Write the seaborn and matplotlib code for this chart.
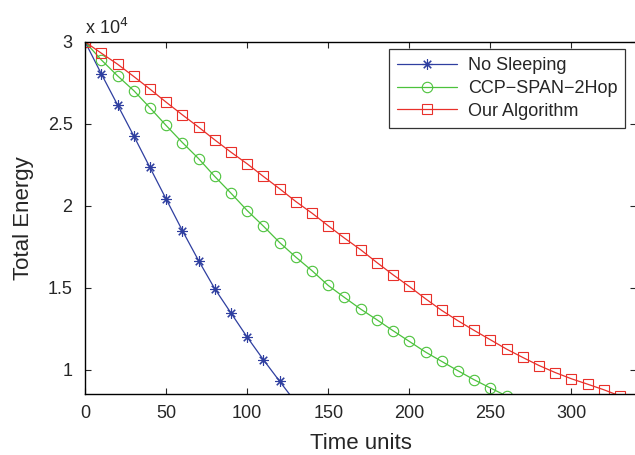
import pandas as pd
import matplotlib
matplotlib.use("Agg")
import matplotlib.pyplot as plt
import seaborn as sns

# Energy values (x 10^4), one point every 10 time units
time_no_sleep = [0, 10, 20, 30, 40, 50, 60, 70, 80, 90, 100, 110, 120, 130]
no_sleeping = [3.0, 2.805, 2.616, 2.427, 2.234, 2.041, 1.849, 1.666, 1.494,
               1.346, 1.199, 1.061, 0.930, 0.80]

time_ccp = list(range(0, 270, 10))
ccp_span = [3.0, 2.89, 2.793, 2.703, 2.598, 2.49, 2.386, 2.288, 2.179, 2.077,
            1.971, 1.876, 1.776, 1.687, 1.604, 1.514, 1.441, 1.37, 1.305,
            1.238, 1.173, 1.108, 1.051, 0.994, 0.939, 0.889, 0.84]

time_ours = list(range(0, 340, 10))
our_algo = [3.0, 2.931, 2.864, 2.789, 2.712, 2.632, 2.555, 2.48, 2.402, 2.327,
            2.256, 2.179, 2.104, 2.026, 1.955, 1.878, 1.803, 1.732, 1.654,
            1.579, 1.508, 1.433, 1.362, 1.299, 1.24, 1.183, 1.126, 1.075,
            1.026, 0.983, 0.945, 0.912, 0.878, 0.84]

x_ticks = [0, 50, 100, 150, 200, 250, 300]
y_ticks = [1, 1.5, 2, 2.5, 3]
y_tick_labels = ["1", "1.5", "2", "2.5", "3"]

sns.set_style("ticks")
plt.rcParams["font.family"] = ["Liberation Sans", "DejaVu Sans"]

fig = plt.figure(figsize=(6.35, 4.55), dpi=100)
ax = fig.add_axes([0.134, 0.134, 0.868, 0.774])

series = [
    (time_no_sleep, no_sleeping, "No Sleeping", "#2f3fa0", (8, 2, 0), 7.5),
    (time_ccp, ccp_span, "CCP\u2212SPAN\u22122Hop", "#4cc23c", "o", 7.5),
    (time_ours, our_algo, "Our Algorithm", "#e8302a", "s", 6.5),
]
for t, e, name, col, mk, ms in series:
    sns.lineplot(x=t, y=e, ax=ax, label=name, color=col, marker=mk,
                 markersize=ms, markerfacecolor="none", markeredgecolor=col,
                 markeredgewidth=0.8, linewidth=0.9)

ax.set_xlim(0, 340)
ax.set_ylim(0.852, 3.0)
ax.set_xticks(x_ticks)
ax.set_yticks(y_ticks)
ax.set_yticklabels(y_tick_labels)
ax.tick_params(labelsize=13, direction="in", length=4, width=0.8,
               top=True, right=True)
ax.tick_params(axis="y", pad=9)
ax.tick_params(axis="x", pad=8)
for s in ax.spines.values():
    s.set_linewidth(1.0)
    s.set_color("black")

ax.set_xlabel("Time units", fontsize=16, labelpad=8)
ax.set_ylabel("Total Energy", fontsize=16, labelpad=10)
ax.text(0.0, 1.01, "x 10$^{4}$", transform=ax.transAxes, fontsize=13,
        ha="left", va="bottom")

leg = ax.legend(loc="upper right", bbox_to_anchor=(0.99, 0.995), fontsize=13,
                frameon=True, fancybox=False, edgecolor="black",
                borderaxespad=0.3, handlelength=3.3, labelspacing=0.32,
                borderpad=0.45, handletextpad=0.6)
leg.get_frame().set_linewidth(0.9)

fig.savefig("out.png", dpi=100)
